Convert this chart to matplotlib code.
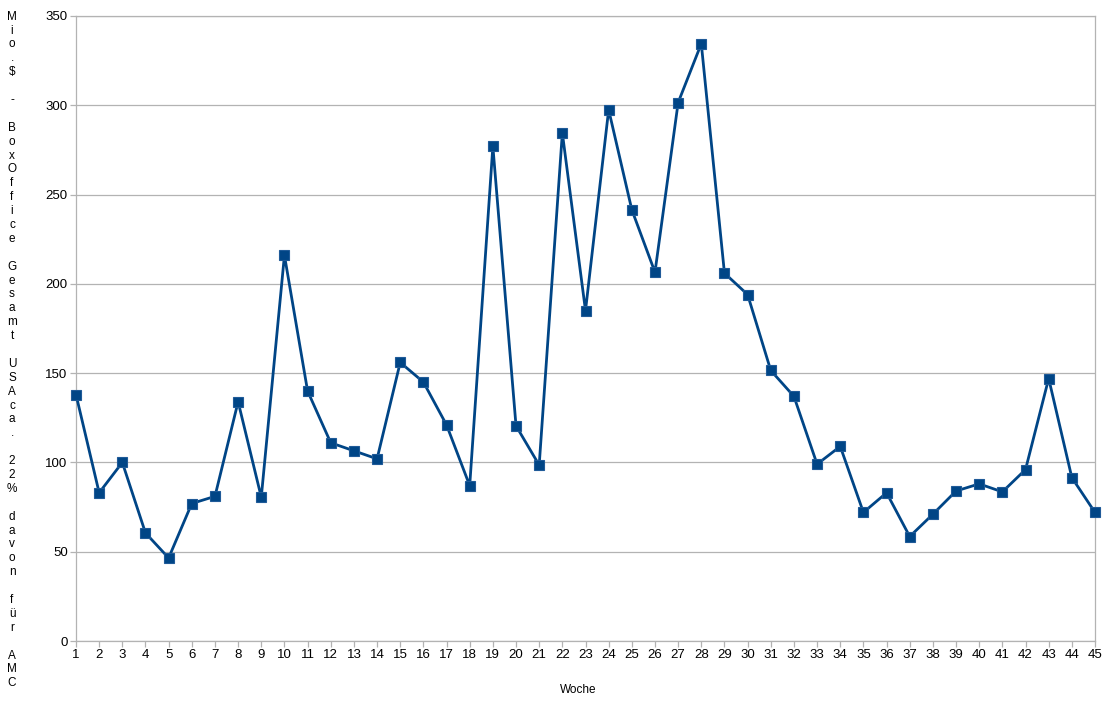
import matplotlib
matplotlib.use("Agg")
import matplotlib.pyplot as plt

weeks = list(range(1, 46))
values = [138, 83, 100, 60.5, 46.5, 77, 81, 134, 80.5, 216,
          140, 111, 106.5, 102, 156, 145, 121, 87, 277, 120.5,
          98.5, 284.5, 185, 297.5, 241.5, 206.5, 301.5, 334.5, 206, 194,
          151.5, 137, 99, 109, 72, 83, 58.5, 71, 84, 88,
          83.5, 96, 147, 91.5, 72]
y_ticks = [0, 50, 100, 150, 200, 250, 300, 350]
x_label = "Woche"
y_label = "Mio.$ - BoxOffice Gesamt USAca. 22% davon für AMC"

plt.rcParams['font.family'] = ['Liberation Sans', 'DejaVu Sans']

fig = plt.figure(figsize=(11.11, 7.04), dpi=100)
ax = fig.add_axes([76/1111, 1 - 641/704, (1095-76)/1111, (641-16)/704])

line_col = '#004586'
ax.plot(weeks, values, color=line_col, lw=2.0, marker='s', markersize=7.5,
        markerfacecolor=line_col, markeredgecolor='#1f5a98', markeredgewidth=0.8,
        zorder=3, clip_on=False)

ax.set_xlim(1, 45)
ax.set_ylim(0, 350)
ax.set_xticks(weeks)
ax.set_yticks(y_ticks)
ax.grid(axis='y', color='#b3b3b3', lw=0.9)
ax.set_axisbelow(True)
for s in ax.spines.values():
    s.set_color('#b3b3b3')
    s.set_linewidth(0.9)
ax.tick_params(axis='both', colors='#b3b3b3', labelcolor='black', labelsize=9.5,
               length=4, width=0.9, direction='out')
ax.tick_params(axis='x', pad=2)
ax.tick_params(axis='y', pad=2)

fig.text(578/1111, 1 - 690/704, x_label, ha='center', va='center', fontsize=8.5)

stacked = "\n".join(c if c != ' ' else '' for c in y_label)
fig.text(12/1111, 1 - 350/704, stacked, ha='center', va='center', fontsize=8.5,
         linespacing=1.21)

fig.savefig("out.png", dpi=100, facecolor='white')
